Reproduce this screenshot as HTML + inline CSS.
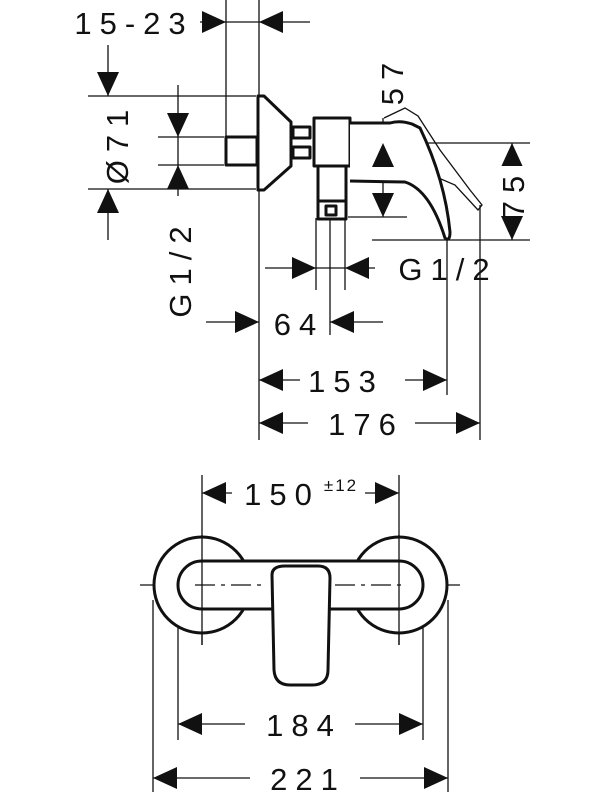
<!DOCTYPE html>
<html><head><style>body{margin:0;background:#fff}svg{display:block}text{font-family:"Liberation Sans",sans-serif;fill:#111}</style></head><body>
<svg width="600" height="800" viewBox="0 0 600 800" xmlns="http://www.w3.org/2000/svg">
<g stroke="#111" stroke-width="1.3" fill="none">
<line x1="226" y1="0" x2="226" y2="137"/><line x1="259" y1="0" x2="259" y2="440"/>
<line x1="200" y1="22" x2="310" y2="22"/>
<line x1="88" y1="96" x2="256" y2="96"/><line x1="88" y1="189" x2="256" y2="189"/>
<line x1="108" y1="45" x2="108" y2="96"/><line x1="108" y1="189" x2="108" y2="240"/>
<line x1="158" y1="137" x2="224" y2="137"/><line x1="158" y1="165" x2="224" y2="165"/>
<line x1="178" y1="85" x2="178" y2="196"/>
<line x1="383" y1="118" x2="383" y2="217"/><line x1="348" y1="217" x2="407" y2="217"/>
<line x1="365" y1="143" x2="530" y2="143"/>
<line x1="512" y1="143" x2="512" y2="240"/><line x1="372" y1="240" x2="530" y2="240"/>
<line x1="316" y1="218" x2="316" y2="290"/><line x1="345" y1="218" x2="345" y2="290"/>
<line x1="265" y1="268" x2="375" y2="268"/>
<line x1="330" y1="218" x2="330" y2="335"/>
<line x1="206" y1="322" x2="259" y2="322"/><line x1="330" y1="322" x2="383" y2="322"/>
<line x1="447" y1="240" x2="447" y2="395"/><line x1="480" y1="205" x2="480" y2="440"/>
<line x1="259" y1="380" x2="300" y2="380"/><line x1="405" y1="380" x2="447" y2="380"/>
<line x1="259" y1="423" x2="308" y2="423"/><line x1="415" y1="423" x2="480" y2="423"/>
<path d="M384,118 L405,108 L418,116 L440,150 L470,190 L482,205 L478,210 L455,185 L420,170 L395,165"/>
<line x1="202" y1="475" x2="202" y2="645"/><line x1="399" y1="475" x2="399" y2="645"/>
<line x1="202" y1="493" x2="232" y2="493"/><line x1="365" y1="493" x2="399" y2="493"/>
<line x1="178" y1="608" x2="178" y2="740"/><line x1="423" y1="608" x2="423" y2="740"/>
<line x1="153" y1="600" x2="153" y2="792"/><line x1="448" y1="600" x2="448" y2="792"/>
<line x1="178" y1="724" x2="245" y2="724"/><line x1="355" y1="724" x2="423" y2="724"/>
<line x1="153" y1="778" x2="250" y2="778"/><line x1="360" y1="778" x2="448" y2="778"/>
<line x1="140" y1="585" x2="180" y2="585"/><line x1="420" y1="585" x2="460" y2="585"/>
</g>
<g stroke="#111" stroke-width="3" fill="#fff" stroke-linejoin="round">
<rect x="226" y="137" width="31" height="28"/>
<path d="M258,96 L264,96 L291,122 L291,166 L264,190 L258,190 Z"/>
<rect x="293" y="127" width="17" height="11"/><rect x="293" y="147" width="17" height="11"/>
<rect x="314" y="118" width="36" height="48"/>
<rect x="318" y="166" width="28" height="35"/>
<rect x="318" y="201" width="28" height="18"/>
<rect x="326" y="206" width="10" height="9"/>
<path d="M350,123 L390,123 Q400,120 412,124 L420,128 Q445,180 450,232 Q450,242 445,238 Q430,190 405,182 L350,181"/>
<circle cx="202" cy="585" r="48"/><circle cx="399" cy="585" r="48"/>
<rect x="178" y="561" width="245" height="48" rx="24"/>
<path d="M272,575 Q272,566 285,566 L318,566 Q330,566 330,578 L328,670 Q328,685 312,685 L290,685 Q275,685 274,670 Z"/>
</g>
<g stroke="#111" stroke-width="1.3" fill="none">
<line x1="202" y1="535" x2="202" y2="645"/><line x1="399" y1="535" x2="399" y2="645"/>
<line x1="195" y1="585" x2="265" y2="585" stroke-dasharray="20 6 4 6"/>
<line x1="335" y1="585" x2="405" y2="585" stroke-dasharray="20 6 4 6"/>
</g>
<g fill="#111">
<polygon points="226,22 202,11 202,33"/><polygon points="259,22 283,11 283,33"/>
<polygon points="108,96 97,72 119,72"/><polygon points="108,189 97,213 119,213"/>
<polygon points="178,137 167,113 189,113"/><polygon points="178,165 167,189 189,189"/>
<polygon points="383,143 372,167 394,167"/><polygon points="383,217 372,193 394,193"/>
<polygon points="512,143 501,167 523,167"/><polygon points="512,240 501,216 523,216"/>
<polygon points="316,268 292,257 292,279"/><polygon points="345,268 369,257 369,279"/>
<polygon points="259,322 235,311 235,333"/><polygon points="330,322 354,311 354,333"/>
<polygon points="259,380 283,369 283,391"/><polygon points="447,380 423,369 423,391"/>
<polygon points="259,423 283,412 283,434"/><polygon points="480,423 456,412 456,434"/>
<polygon points="202,493 226,482 226,504"/><polygon points="399,493 375,482 375,504"/>
<polygon points="178,724 202,713 202,735"/><polygon points="423,724 399,713 399,735"/>
<polygon points="153,778 177,767 177,789"/><polygon points="448,778 424,767 424,789"/>
</g>
<g font-size="31" text-anchor="middle" letter-spacing="8">
<text x="134" y="34">15-23</text>
<text x="346" y="392">153</text>
<text x="366" y="435">176</text>
<text x="299" y="335">64</text>
<text x="448" y="280">G1/2</text>
<text x="304" y="736">184</text>
<text x="308" y="790">221</text>
<text x="282" y="505">150</text>
<text x="341" y="491" font-size="17" letter-spacing="2">±12</text>
<text transform="translate(128,143) rotate(-90)">Ø71</text>
<text transform="translate(191,268) rotate(-90)">G1/2</text>
<text transform="translate(403,80) rotate(-90)">57</text>
</g>
<rect x="500" y="166" width="24" height="50" fill="#fff"/>
<text transform="translate(524,193) rotate(-90)" font-size="31" text-anchor="middle" letter-spacing="8">75</text>
</svg>
</body></html>
